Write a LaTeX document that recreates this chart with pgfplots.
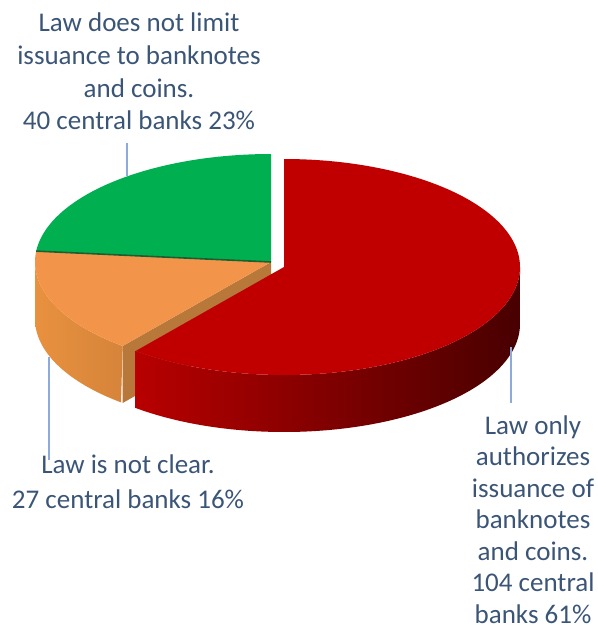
\documentclass[border=0pt]{standalone}
\usepackage{pgfplots}
\pgfplotsset{compat=1.18}
\usepackage{fontspec}
\setmainfont{Carlito}
\definecolor{greentop}{HTML}{00B050}
\definecolor{orangetop}{HTML}{F2954A}
\definecolor{orangesideL}{HTML}{E8913F}
\definecolor{orangesideR}{HTML}{D6843A}
\definecolor{orangecut}{HTML}{B8783A}
\definecolor{redtop}{HTML}{C00000}
\definecolor{redsideL}{HTML}{B80000}
\definecolor{redsideR}{HTML}{480000}
\definecolor{labelc}{HTML}{3B5577}
\definecolor{leader}{HTML}{8EAADB}
\definecolor{sepgreen}{HTML}{1B5E30}
\tikzset{lbl/.style={text=labelc, font=\fontsize{27}{33}\selectfont, anchor=base, inner sep=0pt}}
\begin{document}
\begin{tikzpicture}
% values (number of central banks)
\pgfmathsetmacro\vG{40}  % Law does not limit issuance
\pgfmathsetmacro\vO{27}  % Law is not clear
\pgfmathsetmacro\vR{104} % Law only authorizes banknotes and coins
\pgfmathsetmacro\tot{\vG+\vO+\vR}
\pgfmathsetmacro\aG{90}
\pgfmathsetmacro\aO{90+360*\vG/\tot}
\pgfmathsetmacro\aR{\aO+360*\vO/\tot}
\pgfmathsetmacro\aE{450}
\def\cx{271}\def\cy{262}\def\ra{236}\def\rb{108}\def\hh{57}
\def\dx{13}\def\dy{5}
\pgfmathsetmacro\pOx{\cx+\ra*cos(\aO)}
\pgfmathsetmacro\pOy{\cy-\rb*sin(\aO)}
\pgfmathsetmacro\pRx{\cx+\ra*cos(\aR)}
\pgfmathsetmacro\pRy{\cy-\rb*sin(\aR)}
\pgfmathsetmacro\pRyb{\pRy+\hh}
\pgfmathsetmacro\cyb{\cy+\hh}
\pgfmathsetmacro\rcx{\cx+\dx}
\pgfmathsetmacro\rcy{\cy+\dy}
\begin{axis}[scale only axis, width=597pt, height=631pt,
  xmin=0, xmax=597, ymin=0, ymax=631, y dir=reverse,
  hide axis, clip=false]
% green top
\addplot[fill=greentop, draw=none, domain=\aG:\aO, samples=80, variable=\t]
  ({\cx+\ra*cos(\t)},{\cy-\rb*sin(\t)}) -- (\cx,\cy) -- cycle;
% orange outer side
\addplot[draw=none, left color=orangesideL, right color=orangesideR, domain=0:2, samples=201, variable=\t]
  ({\cx+\ra*cos(180+(\aR-180)*min(\t,2-\t))},
   {\cy-\rb*sin(180+(\aR-180)*min(\t,2-\t))+\hh*(\t>1)});
% orange cut face
\addplot[fill=orangecut, draw=none] coordinates {(\cx,\cy) (\pRx,\pRy) (\pRx,\pRyb) (\cx,\cyb)} -- cycle;
% orange top
\addplot[fill=orangetop, draw=none, domain=\aO:\aR, samples=60, variable=\t]
  ({\cx+\ra*cos(\t)},{\cy-\rb*sin(\t)}) -- (\cx,\cy) -- cycle;
% separator
\addplot[draw=sepgreen, line width=1.6pt] coordinates {(\cx,\cy) (\pOx,\pOy)};
% red outer side (exploded)
\addplot[draw=none, left color=redsideL, right color=redsideR, domain=0:2, samples=241, variable=\t]
  ({\rcx+\ra*cos(\aR+(360-\aR)*min(\t,2-\t))},
   {\rcy-\rb*sin(\aR+(360-\aR)*min(\t,2-\t))+\hh*(\t>1)});
% red top
\addplot[fill=redtop, draw=none, domain=\aR:\aE, samples=150, variable=\t]
  ({\rcx+\ra*cos(\t)},{\rcy-\rb*sin(\t)}) -- (\rcx,\rcy) -- cycle;
% leader lines
\addplot[draw=leader, line width=1.2pt] coordinates {(127,143) (127,176)};
\addplot[draw=leader, line width=1.2pt] coordinates {(49,357) (49,460)};
\addplot[draw=leader, line width=1.2pt] coordinates {(511,347) (511,403)};
% labels
\node[lbl] at (139,32) {Law does not limit};
\node[lbl] at (139,65) {issuance to banknotes};
\node[lbl] at (139,98) {and coins.};
\node[lbl] at (139,130) {40 central banks 23\%};
\node[lbl] at (128,473) {Law is not clear.};
\node[lbl] at (128,508) {27 central banks 16\%};
\node[lbl] at (533,434) {Law only};
\node[lbl] at (533,465.5) {authorizes};
\node[lbl] at (533,497) {issuance of};
\node[lbl] at (533,528.5) {banknotes};
\node[lbl] at (533,560) {and coins.};
\node[lbl] at (533,591.5) {104 central};
\node[lbl] at (533,623) {banks 61\%};
\end{axis}
\pgfresetboundingbox
\path[use as bounding box] (0,0) rectangle (597pt,631pt);
\end{tikzpicture}
\end{document}
